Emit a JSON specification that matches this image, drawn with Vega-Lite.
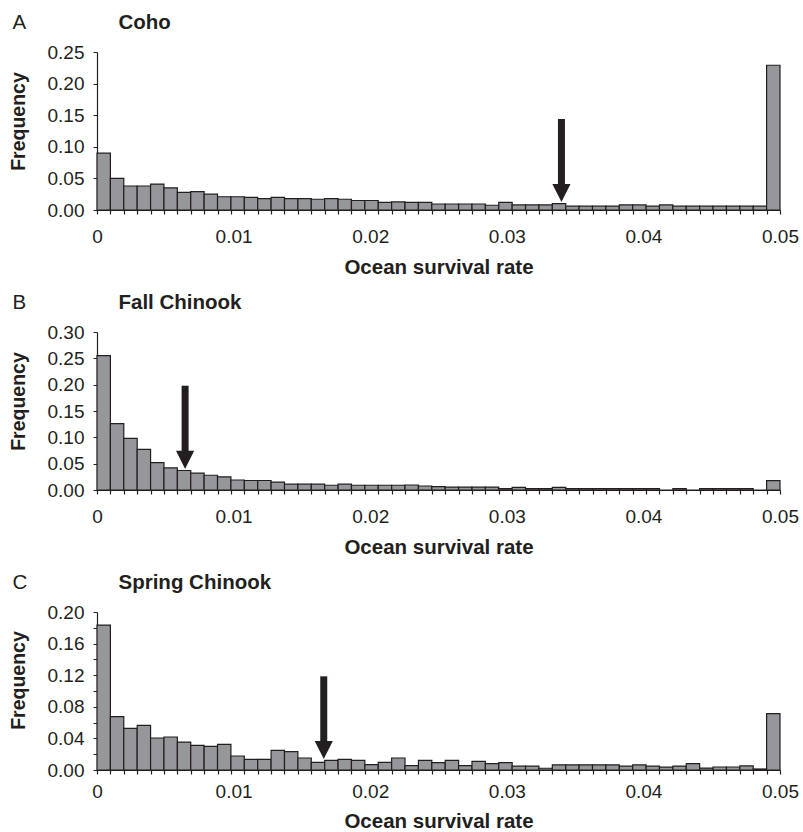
{
  "$schema": "https://vega.github.io/schema/vega-lite/v6.json",
  "padding": {"left": 8, "top": 12, "right": 0, "bottom": 0},
  "spacing": 14,
  "datasets": {
    "bins": [
      {"lo": 0, "hi": 0.00098039, "coho": 0.090, "fall": 0.255, "spring": 0.1835},
      {"lo": 0.00098039, "hi": 0.00196078, "coho": 0.050, "fall": 0.126, "spring": 0.0675},
      {"lo": 0.00196078, "hi": 0.00294118, "coho": 0.038, "fall": 0.098, "spring": 0.0527},
      {"lo": 0.00294118, "hi": 0.00392157, "coho": 0.038, "fall": 0.077, "spring": 0.0565},
      {"lo": 0.00392157, "hi": 0.00490196, "coho": 0.041, "fall": 0.052, "spring": 0.0405},
      {"lo": 0.00490196, "hi": 0.00588235, "coho": 0.035, "fall": 0.042, "spring": 0.0418},
      {"lo": 0.00588235, "hi": 0.00686275, "coho": 0.028, "fall": 0.037, "spring": 0.0354},
      {"lo": 0.00686275, "hi": 0.00784314, "coho": 0.029, "fall": 0.032, "spring": 0.0312},
      {"lo": 0.00784314, "hi": 0.00882353, "coho": 0.025, "fall": 0.028, "spring": 0.030},
      {"lo": 0.00882353, "hi": 0.00980392, "coho": 0.021, "fall": 0.025, "spring": 0.0325},
      {"lo": 0.00980392, "hi": 0.01078431, "coho": 0.021, "fall": 0.019, "spring": 0.0177},
      {"lo": 0.01078431, "hi": 0.01176471, "coho": 0.020, "fall": 0.018, "spring": 0.0135},
      {"lo": 0.01176471, "hi": 0.0127451, "coho": 0.018, "fall": 0.018, "spring": 0.0135},
      {"lo": 0.0127451, "hi": 0.01372549, "coho": 0.020, "fall": 0.015, "spring": 0.0249},
      {"lo": 0.01372549, "hi": 0.01470588, "coho": 0.018, "fall": 0.011, "spring": 0.0232},
      {"lo": 0.01470588, "hi": 0.01568627, "coho": 0.018, "fall": 0.011, "spring": 0.0152},
      {"lo": 0.01568627, "hi": 0.01666667, "coho": 0.017, "fall": 0.011, "spring": 0.0097},
      {"lo": 0.01666667, "hi": 0.01764706, "coho": 0.018, "fall": 0.009, "spring": 0.0122},
      {"lo": 0.01764706, "hi": 0.01862745, "coho": 0.017, "fall": 0.011, "spring": 0.0135},
      {"lo": 0.01862745, "hi": 0.01960784, "coho": 0.015, "fall": 0.009, "spring": 0.0122},
      {"lo": 0.01960784, "hi": 0.02058824, "coho": 0.015, "fall": 0.009, "spring": 0.0068},
      {"lo": 0.02058824, "hi": 0.02156863, "coho": 0.012, "fall": 0.009, "spring": 0.0097},
      {"lo": 0.02156863, "hi": 0.02254902, "coho": 0.013, "fall": 0.009, "spring": 0.0152},
      {"lo": 0.02254902, "hi": 0.02352941, "coho": 0.012, "fall": 0.0095, "spring": 0.0055},
      {"lo": 0.02352941, "hi": 0.0245098, "coho": 0.012, "fall": 0.0076, "spring": 0.0122},
      {"lo": 0.0245098, "hi": 0.0254902, "coho": 0.0095, "fall": 0.0063, "spring": 0.0093},
      {"lo": 0.0254902, "hi": 0.02647059, "coho": 0.0095, "fall": 0.0055, "spring": 0.0122},
      {"lo": 0.02647059, "hi": 0.02745098, "coho": 0.0095, "fall": 0.0055, "spring": 0.0055},
      {"lo": 0.02745098, "hi": 0.02843137, "coho": 0.0095, "fall": 0.0055, "spring": 0.011},
      {"lo": 0.02843137, "hi": 0.02941176, "coho": 0.0075, "fall": 0.0055, "spring": 0.008},
      {"lo": 0.02941176, "hi": 0.03039216, "coho": 0.012, "fall": 0.0025, "spring": 0.0093},
      {"lo": 0.03039216, "hi": 0.03137255, "coho": 0.008, "fall": 0.005, "spring": 0.005},
      {"lo": 0.03137255, "hi": 0.03235294, "coho": 0.008, "fall": 0.0025, "spring": 0.005},
      {"lo": 0.03235294, "hi": 0.03333333, "coho": 0.008, "fall": 0.0025, "spring": 0.0022},
      {"lo": 0.03333333, "hi": 0.03431373, "coho": 0.010, "fall": 0.005, "spring": 0.0066},
      {"lo": 0.03431373, "hi": 0.03529412, "coho": 0.006, "fall": 0.0025, "spring": 0.0066},
      {"lo": 0.03529412, "hi": 0.03627451, "coho": 0.006, "fall": 0.0025, "spring": 0.0066},
      {"lo": 0.03627451, "hi": 0.0372549, "coho": 0.006, "fall": 0.0025, "spring": 0.0066},
      {"lo": 0.0372549, "hi": 0.03823529, "coho": 0.006, "fall": 0.0025, "spring": 0.0066},
      {"lo": 0.03823529, "hi": 0.03921569, "coho": 0.008, "fall": 0.0025, "spring": 0.005},
      {"lo": 0.03921569, "hi": 0.04019608, "coho": 0.008, "fall": 0.0025, "spring": 0.0066},
      {"lo": 0.04019608, "hi": 0.04117647, "coho": 0.006, "fall": 0.0025, "spring": 0.005},
      {"lo": 0.04117647, "hi": 0.04215686, "coho": 0.008, "fall": 0, "spring": 0.0036},
      {"lo": 0.04215686, "hi": 0.04313725, "coho": 0.006, "fall": 0.0025, "spring": 0.005},
      {"lo": 0.04313725, "hi": 0.04411765, "coho": 0.006, "fall": 0, "spring": 0.008},
      {"lo": 0.04411765, "hi": 0.04509804, "coho": 0.006, "fall": 0.0025, "spring": 0.0025},
      {"lo": 0.04509804, "hi": 0.04607843, "coho": 0.006, "fall": 0.0025, "spring": 0.0038},
      {"lo": 0.04607843, "hi": 0.04705882, "coho": 0.006, "fall": 0.0025, "spring": 0.0038},
      {"lo": 0.04705882, "hi": 0.04803922, "coho": 0.006, "fall": 0.0025, "spring": 0.0053},
      {"lo": 0.04803922, "hi": 0.04901961, "coho": 0.006, "fall": 0, "spring": 0.0013},
      {"lo": 0.04901961, "hi": 0.05, "coho": 0.229, "fall": 0.0178, "spring": 0.0713}
    ],
    "arrows": [
      {"species": "coho", "rate": 0.034, "top": 0.144, "tip": 0.0127},
      {"species": "fall", "rate": 0.00645, "top": 0.198, "tip": 0.040},
      {"species": "spring", "rate": 0.0166, "top": 0.1186, "tip": 0.0139}
    ]
  },
  "vconcat": [
    {
      "width": 683, "height": 158,
      "resolve": {"axis": {"x": "independent", "y": "independent"}},
      "layer": [
        {
          "data": {"name": "bins"},
          "mark": {"type": "rect", "fill": "#96979b", "stroke": "#231f20", "strokeWidth": 1.2},
          "encoding": {
            "x": {"field": "lo", "type": "quantitative", "scale": {"domain": [0, 0.05], "nice": false, "zero": false},
              "axis": {"orient": "bottom", "values": [0, 0.01, 0.02, 0.03, 0.04, 0.05], "labelExpr": "datum.value == 0 ? '0' : format(datum.value, '.2f')", "ticks": false, "domain": true, "domainWidth": 1.2, "labelFlush": false, "labelOverlap": false, "labelPadding": 32, "labelBaseline": "alphabetic", "title": "Ocean survival rate", "titleY": 63, "titleBaseline": "alphabetic"}},
            "x2": {"field": "hi"},
            "y": {"field": "coho", "type": "quantitative", "scale": {"domain": [0, 0.25], "nice": false},
              "axis": {"orient": "left", "values": [0, 0.05, 0.1, 0.15, 0.2, 0.25], "format": ".2f", "tickSize": 4, "labelPadding": 9, "domainWidth": 1.2, "title": "Frequency", "titleX": -72.7, "titleY": 69, "titleAngle": -90, "titleAlign": "center", "titleBaseline": "alphabetic", "titleFontSize": 19.5}},
            "y2": {"datum": 0}
          }
        },
        {
          "data": {"name": "arrows"},
          "transform": [{"filter": "datum.species == 'coho'"}],
          "mark": {"type": "rule", "strokeWidth": 7, "color": "#231f20", "y2Offset": -9},
          "encoding": {
            "x": {"field": "rate", "type": "quantitative", "scale": {"domain": [0, 0.05], "nice": false, "zero": false},
              "axis": {"orient": "bottom", "values": [0, 0.00098039, 0.00196078, 0.00294118, 0.00392157, 0.00490196, 0.00588235, 0.00686275, 0.00784314, 0.00882353, 0.00980392, 0.01078431, 0.01176471, 0.0127451, 0.01372549, 0.01470588, 0.01568627, 0.01666667, 0.01764706, 0.01862745, 0.01960784, 0.02058824, 0.02156863, 0.02254902, 0.02352941, 0.0245098, 0.0254902, 0.02647059, 0.02745098, 0.02843137, 0.02941176, 0.03039216, 0.03137255, 0.03235294, 0.03333333, 0.03431373, 0.03529412, 0.03627451, 0.0372549, 0.03823529, 0.03921569, 0.04019608, 0.04117647, 0.04215686, 0.04313725, 0.04411765, 0.04509804, 0.04607843, 0.04705882, 0.04803922, 0.04901961, 0.05], "labels": false, "domain": false, "ticks": true, "tickSize": 4, "tickWidth": 1.2, "title": null}},
            "y": {"field": "top", "type": "quantitative", "scale": {"domain": [0, 0.25], "nice": false},
              "axis": {"orient": "left", "title": "A", "titleAngle": 0, "titleX": -85, "titleY": -24, "titleAlign": "left", "titleBaseline": "alphabetic", "titleFontWeight": "normal", "labels": false, "ticks": false, "domain": false}},
            "y2": {"field": "tip"}
          }
        },
        {
          "data": {"name": "arrows"},
          "transform": [{"filter": "datum.species == 'coho'"}],
          "mark": {"type": "point", "shape": "M-1,-1L1,-1L0,1Z", "size": 330, "filled": true, "color": "#231f20", "opacity": 1, "yOffset": -9},
          "encoding": {
            "x": {"field": "rate", "type": "quantitative", "scale": {"domain": [0, 0.05], "nice": false, "zero": false},
              "axis": {"orient": "top", "title": "Coho", "titleX": 21, "titleY": -24, "titleAlign": "left", "titleBaseline": "alphabetic", "labels": false, "ticks": false, "domain": false}},
            "y": {"field": "tip", "type": "quantitative", "scale": {"domain": [0, 0.25], "nice": false}, "axis": null}
          }
        }
      ]
    },
    {
      "width": 683, "height": 158,
      "resolve": {"axis": {"x": "independent", "y": "independent"}},
      "layer": [
        {
          "data": {"name": "bins"},
          "mark": {"type": "rect", "fill": "#96979b", "stroke": "#231f20", "strokeWidth": 1.2},
          "encoding": {
            "x": {"field": "lo", "type": "quantitative", "scale": {"domain": [0, 0.05], "nice": false, "zero": false},
              "axis": {"orient": "bottom", "values": [0, 0.01, 0.02, 0.03, 0.04, 0.05], "labelExpr": "datum.value == 0 ? '0' : format(datum.value, '.2f')", "ticks": false, "domain": true, "domainWidth": 1.2, "labelFlush": false, "labelOverlap": false, "labelPadding": 32, "labelBaseline": "alphabetic", "title": "Ocean survival rate", "titleY": 63, "titleBaseline": "alphabetic"}},
            "x2": {"field": "hi"},
            "y": {"field": "fall", "type": "quantitative", "scale": {"domain": [0, 0.3], "nice": false},
              "axis": {"orient": "left", "values": [0, 0.05, 0.1, 0.15, 0.2, 0.25, 0.3], "format": ".2f", "tickSize": 4, "labelPadding": 9, "domainWidth": 1.2, "title": "Frequency", "titleX": -72.7, "titleY": 69, "titleAngle": -90, "titleAlign": "center", "titleBaseline": "alphabetic", "titleFontSize": 19.5}},
            "y2": {"datum": 0}
          }
        },
        {
          "data": {"name": "arrows"},
          "transform": [{"filter": "datum.species == 'fall'"}],
          "mark": {"type": "rule", "strokeWidth": 7, "color": "#231f20", "y2Offset": -9},
          "encoding": {
            "x": {"field": "rate", "type": "quantitative", "scale": {"domain": [0, 0.05], "nice": false, "zero": false},
              "axis": {"orient": "bottom", "values": [0, 0.00098039, 0.00196078, 0.00294118, 0.00392157, 0.00490196, 0.00588235, 0.00686275, 0.00784314, 0.00882353, 0.00980392, 0.01078431, 0.01176471, 0.0127451, 0.01372549, 0.01470588, 0.01568627, 0.01666667, 0.01764706, 0.01862745, 0.01960784, 0.02058824, 0.02156863, 0.02254902, 0.02352941, 0.0245098, 0.0254902, 0.02647059, 0.02745098, 0.02843137, 0.02941176, 0.03039216, 0.03137255, 0.03235294, 0.03333333, 0.03431373, 0.03529412, 0.03627451, 0.0372549, 0.03823529, 0.03921569, 0.04019608, 0.04117647, 0.04215686, 0.04313725, 0.04411765, 0.04509804, 0.04607843, 0.04705882, 0.04803922, 0.04901961, 0.05], "labels": false, "domain": false, "ticks": true, "tickSize": 4, "tickWidth": 1.2, "title": null}},
            "y": {"field": "top", "type": "quantitative", "scale": {"domain": [0, 0.3], "nice": false},
              "axis": {"orient": "left", "title": "B", "titleAngle": 0, "titleX": -85, "titleY": -24, "titleAlign": "left", "titleBaseline": "alphabetic", "titleFontWeight": "normal", "labels": false, "ticks": false, "domain": false}},
            "y2": {"field": "tip"}
          }
        },
        {
          "data": {"name": "arrows"},
          "transform": [{"filter": "datum.species == 'fall'"}],
          "mark": {"type": "point", "shape": "M-1,-1L1,-1L0,1Z", "size": 330, "filled": true, "color": "#231f20", "opacity": 1, "yOffset": -9},
          "encoding": {
            "x": {"field": "rate", "type": "quantitative", "scale": {"domain": [0, 0.05], "nice": false, "zero": false},
              "axis": {"orient": "top", "title": "Fall Chinook", "titleX": 21, "titleY": -24, "titleAlign": "left", "titleBaseline": "alphabetic", "labels": false, "ticks": false, "domain": false}},
            "y": {"field": "tip", "type": "quantitative", "scale": {"domain": [0, 0.3], "nice": false}, "axis": null}
          }
        }
      ]
    },
    {
      "width": 683, "height": 158,
      "resolve": {"axis": {"x": "independent", "y": "independent"}},
      "layer": [
        {
          "data": {"name": "bins"},
          "mark": {"type": "rect", "fill": "#96979b", "stroke": "#231f20", "strokeWidth": 1.2},
          "encoding": {
            "x": {"field": "lo", "type": "quantitative", "scale": {"domain": [0, 0.05], "nice": false, "zero": false},
              "axis": {"orient": "bottom", "values": [0, 0.01, 0.02, 0.03, 0.04, 0.05], "labelExpr": "datum.value == 0 ? '0' : format(datum.value, '.2f')", "ticks": false, "domain": true, "domainWidth": 1.2, "labelFlush": false, "labelOverlap": false, "labelPadding": 27, "labelBaseline": "alphabetic", "title": "Ocean survival rate", "titleY": 57, "titleBaseline": "alphabetic"}},
            "x2": {"field": "hi"},
            "y": {"field": "spring", "type": "quantitative", "scale": {"domain": [0, 0.2], "nice": false},
              "axis": {"orient": "left", "values": [0, 0.02, 0.04, 0.06, 0.08, 0.1, 0.12, 0.14, 0.16, 0.18, 0.2], "labelExpr": "round(datum.value * 100) % 4 == 0 ? format(datum.value, '.2f') : ''", "tickSize": 4, "labelPadding": 9, "domainWidth": 1.2, "labelOverlap": false, "title": "Frequency", "titleX": -72.7, "titleY": 68, "titleAngle": -90, "titleAlign": "center", "titleBaseline": "alphabetic", "titleFontSize": 19.5}},
            "y2": {"datum": 0}
          }
        },
        {
          "data": {"name": "arrows"},
          "transform": [{"filter": "datum.species == 'spring'"}],
          "mark": {"type": "rule", "strokeWidth": 7, "color": "#231f20", "y2Offset": -9},
          "encoding": {
            "x": {"field": "rate", "type": "quantitative", "scale": {"domain": [0, 0.05], "nice": false, "zero": false},
              "axis": {"orient": "bottom", "values": [0, 0.00098039, 0.00196078, 0.00294118, 0.00392157, 0.00490196, 0.00588235, 0.00686275, 0.00784314, 0.00882353, 0.00980392, 0.01078431, 0.01176471, 0.0127451, 0.01372549, 0.01470588, 0.01568627, 0.01666667, 0.01764706, 0.01862745, 0.01960784, 0.02058824, 0.02156863, 0.02254902, 0.02352941, 0.0245098, 0.0254902, 0.02647059, 0.02745098, 0.02843137, 0.02941176, 0.03039216, 0.03137255, 0.03235294, 0.03333333, 0.03431373, 0.03529412, 0.03627451, 0.0372549, 0.03823529, 0.03921569, 0.04019608, 0.04117647, 0.04215686, 0.04313725, 0.04411765, 0.04509804, 0.04607843, 0.04705882, 0.04803922, 0.04901961, 0.05], "labels": false, "domain": false, "ticks": true, "tickSize": 4, "tickWidth": 1.2, "title": null}},
            "y": {"field": "top", "type": "quantitative", "scale": {"domain": [0, 0.2], "nice": false},
              "axis": {"orient": "left", "title": "C", "titleAngle": 0, "titleX": -85, "titleY": -24, "titleAlign": "left", "titleBaseline": "alphabetic", "titleFontWeight": "normal", "labels": false, "ticks": false, "domain": false}},
            "y2": {"field": "tip"}
          }
        },
        {
          "data": {"name": "arrows"},
          "transform": [{"filter": "datum.species == 'spring'"}],
          "mark": {"type": "point", "shape": "M-1,-1L1,-1L0,1Z", "size": 330, "filled": true, "color": "#231f20", "opacity": 1, "yOffset": -9},
          "encoding": {
            "x": {"field": "rate", "type": "quantitative", "scale": {"domain": [0, 0.05], "nice": false, "zero": false},
              "axis": {"orient": "top", "title": "Spring Chinook", "titleX": 21, "titleY": -24, "titleAlign": "left", "titleBaseline": "alphabetic", "labels": false, "ticks": false, "domain": false}},
            "y": {"field": "tip", "type": "quantitative", "scale": {"domain": [0, 0.2], "nice": false}, "axis": null}
          }
        }
      ]
    }
  ],
  "config": {
    "view": {"stroke": null},
    "font": "Liberation Sans",
    "axis": {
      "grid": false,
      "labelFont": "Liberation Sans",
      "titleFont": "Liberation Sans",
      "labelFontSize": 19,
      "titleFontSize": 20.5,
      "titleFontWeight": "bold",
      "labelColor": "#231f20",
      "titleColor": "#231f20",
      "domainColor": "#231f20",
      "tickColor": "#231f20"
    }
  }
}
